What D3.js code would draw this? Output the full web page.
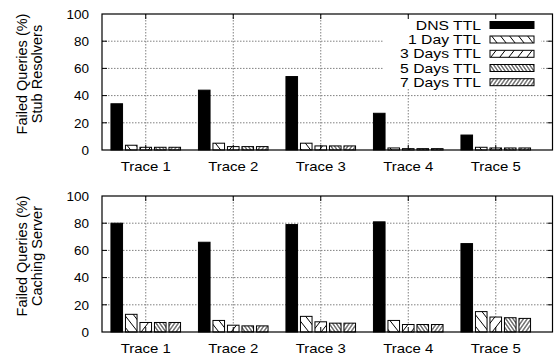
<!DOCTYPE html>
<html>
<head>
<meta charset="utf-8">
<script src="https://cdn.jsdelivr.net/npm/d3@7"></script>
<style>
  body { margin: 0; background: #fff; }
  svg { display: block; font-family: "Liberation Sans", Arial, Helvetica, sans-serif; }
</style>
</head>
<body>
<svg id="chart" width="555" height="355"></svg>
<script>
// ---- data ----
const categories = ["Trace 1", "Trace 2", "Trace 3", "Trace 4", "Trace 5"];
const seriesNames = ["DNS TTL", "1 Day TTL", "3 Days TTL", "5 Days TTL", "7 Days TTL"];
const yTicks = [0, 20, 40, 60, 80, 100];

// Stub resolvers panel
const stubDNS   = [34, 44, 54, 27, 11];
const stub1Day  = [3.5, 5, 5, 1.5, 2];
const stub3Days = [2, 2.5, 3, 1, 1.5];
const stub5Days = [2, 2.5, 3, 1, 1.5];
const stub7Days = [2, 2.5, 3, 1, 1.5];

// Caching server panel
const cacheDNS   = [80, 66, 79, 81, 65];
const cache1Day  = [13, 8.5, 11.5, 8.5, 15];
const cache3Days = [7, 5, 7.5, 5.5, 11];
const cache5Days = [7, 4.5, 6.5, 5.5, 10.5];
const cache7Days = [7, 4.5, 6.5, 5.5, 10];

const panels = [
  { lines: ["Failed Queries (%)", "Stub Resolvers"], top: 14, series: [stubDNS, stub1Day, stub3Days, stub5Days, stub7Days], legend: true },
  { lines: ["Failed Queries (%)", "Caching Server"], top: 196, series: [cacheDNS, cache1Day, cache3Days, cache5Days, cache7Days], legend: false }
];

const svg = d3.select("#chart");
const left = 102, right = 552.5, plotH = 136;

// patterns
const defs = svg.append("defs");
function hatch(id, spacing, skew) {
  const p = defs.append("pattern").attr("id", id)
    .attr("patternUnits", "userSpaceOnUse")
    .attr("width", spacing).attr("height", spacing)
    .attr("patternTransform", `skewX(${skew})`);
  p.append("rect").attr("width", spacing).attr("height", spacing).attr("fill", "#fff");
  p.append("line").attr("x1", spacing / 2).attr("x2", spacing / 2)
    .attr("y1", -1).attr("y2", spacing + 1)
    .attr("stroke", "#000").attr("stroke-width", 1);
}
hatch("p1", 9, 38);
hatch("p3", 9, -38);
hatch("p5", 3.6, 35);
hatch("p7", 3.8, -35);
const fills = ["#000", "url(#p1)", "url(#p3)", "url(#p5)", "url(#p7)"];

const x0 = d3.scaleBand().domain(categories).range([left, left + 5 * 87.5]).padding(0);
const x1 = d3.scaleBand().domain(seriesNames).range([-36.25, 36.25]).paddingInner(0.2).paddingOuter(0.1);

panels.forEach(panel => {
  const top = panel.top, bottom = top + plotH;
  const y = d3.scaleLinear().domain([0, 100]).range([bottom, top]);
  const g = svg.append("g");

  // grid
  const gridColor = "#808080";
  g.selectAll(".hgrid").data(yTicks.filter(t => t > 0 && t < 100)).enter().append("line")
    .attr("x1", left).attr("x2", right)
    .attr("y1", d => y(d)).attr("y2", d => y(d))
    .attr("stroke", gridColor).attr("stroke-width", 1).attr("stroke-dasharray", "1.5,1.5");
  g.selectAll(".vgrid").data(categories).enter().append("line")
    .attr("x1", d => x0(d) + x0.bandwidth() / 2).attr("x2", d => x0(d) + x0.bandwidth() / 2)
    .attr("y1", top).attr("y2", bottom)
    .attr("stroke", gridColor).attr("stroke-width", 1).attr("stroke-dasharray", "1.5,1.5");

  // legend background (opaque, hides grid)
  if (panel.legend) {
    g.append("rect").attr("x", 383).attr("y", 16).attr("width", 158).attr("height", 73).attr("fill", "#fff");
  }

  // bars
  panel.series.forEach((vals, si) => {
    g.selectAll(".bar" + si).data(vals).enter().append("rect")
      .attr("x", (d, i) => x0(categories[i]) + x0.bandwidth() / 2 + x1(seriesNames[si]))
      .attr("width", x1.bandwidth())
      .attr("y", d => y(d))
      .attr("height", d => y(0) - y(d))
      .attr("fill", fills[si])
      .attr("stroke", "#000").attr("stroke-width", 1);
  });

  // ticks (inward, mirrored)
  const tl = 5;
  yTicks.forEach(t => {
    if (t > 0 && t < 100) {
      g.append("line").attr("x1", left).attr("x2", left + tl).attr("y1", y(t)).attr("y2", y(t)).attr("stroke", "#000");
      g.append("line").attr("x1", right).attr("x2", right - tl).attr("y1", y(t)).attr("y2", y(t)).attr("stroke", "#000");
    }
    g.append("text").attr("x", 89).attr("y", y(t)).attr("dy", "0.35em")
      .attr("text-anchor", "end").attr("font-size", 13.5).text(t);
  });
  categories.forEach(c => {
    const cx = x0(c) + x0.bandwidth() / 2;
    g.append("line").attr("x1", cx).attr("x2", cx).attr("y1", bottom).attr("y2", bottom - tl).attr("stroke", "#000");
    g.append("line").attr("x1", cx).attr("x2", cx).attr("y1", top).attr("y2", top + tl).attr("stroke", "#000");
    g.append("text").attr("transform", `translate(${cx},${bottom + 21}) scale(1.1,1)`)
      .attr("text-anchor", "middle").attr("font-size", 13.6).text(c);
  });

  // border
  g.append("rect").attr("x", left).attr("y", top).attr("width", right - left).attr("height", plotH)
    .attr("fill", "none").attr("stroke", "#000").attr("stroke-width", 1.2);

  // y label
  const cy = top + plotH / 2 - 8;
  panel.lines.forEach((line, li) => {
    g.append("text")
      .attr("transform", `translate(${27 + li * 15},${cy}) rotate(-90)`)
      .attr("text-anchor", "middle").attr("font-size", 14.5).text(line);
  });

  // legend
  if (panel.legend) {
    const rows = [25, 39.5, 53.8, 68, 82.2];
    seriesNames.forEach((name, si) => {
      g.append("text").attr("transform", `translate(481,${rows[si]}) scale(1.21,1)`)
        .attr("dy", "0.36em")
        .attr("text-anchor", "end").attr("font-size", 13).text(name);
      g.append("rect").attr("x", 490).attr("y", rows[si] - 3.5).attr("width", 44).attr("height", 7)
        .attr("fill", fills[si]).attr("stroke", "#000").attr("stroke-width", 1);
    });
  }
});
</script>
</body>
</html>
